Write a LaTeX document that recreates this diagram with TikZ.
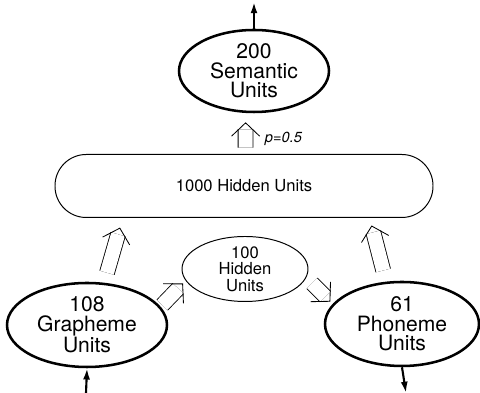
\documentclass[tikz,border=0pt]{standalone}
\usepackage{fontspec}
\setmainfont{TeX Gyre Heros}
\usetikzlibrary{arrows.meta,shapes.geometric,calc}
\newcommand{\dbarrow}[2]{%
  \draw[dbl] (#1) -- (#2);
  \draw[dbltip] ($(#2)!1pt!(#1)$) -- (#2);}

\begin{document}
\begin{tikzpicture}[
  pool/.style={draw,ellipse,line width=1.8pt,inner sep=0pt,minimum width=#1,minimum height=2.1cm},
  bigtxt/.style={align=center,font=\fontsize{15}{14}\selectfont},
  dbl/.style={double,double distance=10pt,line width=0.6pt,shorten >=5pt},
  dbltip/.style={line width=0.6pt,line join=miter,-{Straight Barb[length=9.5pt,width=20pt]}},
  io/.style={line width=1.5pt,-{Latex[length=8pt,width=5pt]}}]
 \useasboundingbox (0,0) rectangle (12,9.825);
 \node[pool=3.75cm,minimum height=2.05cm] (sem) at (6.35,8.05) {};
 \node[bigtxt] (semtxt) at (sem) {200\\Semantic\\Units};
 \node[draw,line width=0.7pt,rounded corners=0.78cm,minimum width=9.45cm,minimum height=1.575cm,
   font=\fontsize{11.8}{13}\selectfont] (hid) at (6.1,5.175) {1000 Hidden Units};
 \node[draw,ellipse,line width=0.7pt,inner sep=0pt,minimum width=3.15cm,minimum height=1.625cm] (sml) at (6.125,3.1) {};
 \node[align=center,font=\fontsize{11.8}{11.6}\selectfont] (smltxt) at (sml) {100\\Hidden\\Units};
 \node[pool=4cm] (gra) at (2.175,1.7) {};
 \node[bigtxt] (gratxt) at (gra) {108\\Grapheme\\Units};
 \node[pool=3.85cm] (pho) at (10.05,1.725) {};
 \node[bigtxt] (photxt) at (pho) {61\\Phoneme\\Units};
 \coordinate (out) at (6.35,9.775);
 \coordinate (in) at (2.15,0);
 \coordinate (spk) at (10.15,0);
 % external input and outputs
 \draw[io] (sem.north) -- (out);
 \draw[io] (in) -- (gra.south);
 \draw[io] (pho.south) -- (spk);
 % connections between pools
 \dbarrow{[shift={(0.04cm,0.16cm)}]hid.north}{[shift={(-0.21cm,-0.225cm)}]sem.south}
 \node[anchor=west,font=\fontsize{10.4}{12}\selectfont\itshape] (prob) at (6.5,6.35) {p=0.5};
 \dbarrow{[shift={(0.5cm,0.225cm)}]gra.north}{[shift={(-3.1cm,-0.24cm)}]hid.south}
 \dbarrow{[shift={(-0.15cm,0.5cm)}]gra.east}{[shift={(0.0375cm,-0.3625cm)}]sml.west}
 \dbarrow{[shift={(0.09cm,-0.3575cm)}]sml.east}{[shift={(0.165cm,0.5575cm)}]pho.west}
 \dbarrow{[shift={(-0.47cm,0.2575cm)}]pho.north}{[shift={(3.19cm,-0.1875cm)}]hid.south}
\end{tikzpicture}
\end{document}
